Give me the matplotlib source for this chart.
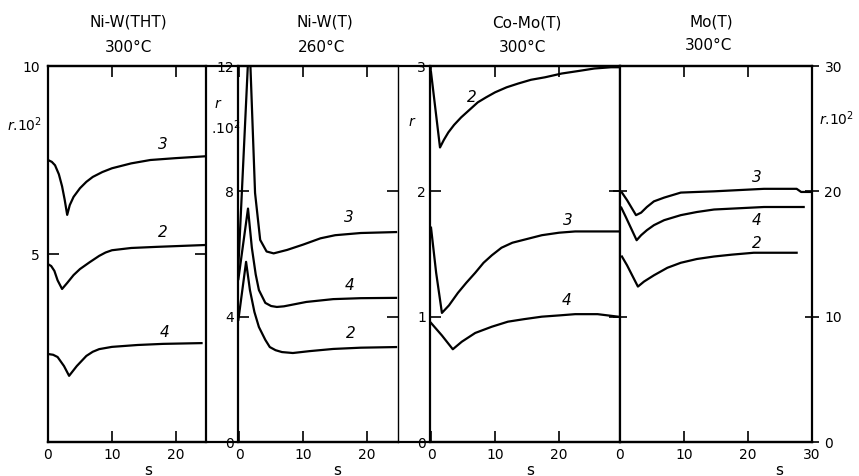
import matplotlib.pyplot as plt
from matplotlib.lines import Line2D
from matplotlib import transforms

# ---- data (s in seconds, r values) ----
# Ni-W(THT) 300C, r.10^2
nw_tht_s3 = [0, 0.6, 1.1, 1.7, 2.2, 2.6, 3.0, 3.4, 4.0, 5.0, 6.0, 7.0, 8.5, 10, 13, 16, 20, 24.7]
nw_tht_r3 = [7.5, 7.45, 7.36, 7.12, 6.8, 6.45, 6.04, 6.3, 6.52, 6.75, 6.92, 7.05, 7.18, 7.28, 7.41, 7.5, 7.55, 7.6]
nw_tht_s2 = [0, 0.5, 1.0, 1.5, 2.2, 3.0, 4.0, 5.0, 6.5, 8.0, 9.0, 10, 13, 17, 24.7]
nw_tht_r2 = [4.73, 4.68, 4.55, 4.3, 4.07, 4.23, 4.44, 4.6, 4.78, 4.95, 5.04, 5.1, 5.16, 5.19, 5.24]
nw_tht_s4 = [0, 0.8, 1.5, 2.5, 3.3, 4.5, 6.0, 7.0, 8.0, 10, 14, 18, 24]
nw_tht_r4 = [2.34, 2.32, 2.26, 2.02, 1.76, 2.02, 2.29, 2.4, 2.47, 2.53, 2.58, 2.61, 2.63]

# Ni-W(T) 260C, r.10^2
nw_t_s3 = [-0.15, 1.6, 2.5, 3.3, 4.3, 5.4, 7.5, 10, 12.7, 15, 19, 24.5]
nw_t_r3 = [5.4, 13.0, 7.95, 6.45, 6.08, 6.02, 6.13, 6.3, 6.5, 6.6, 6.67, 6.7]
nw_t_s4 = [-0.1, 1.4, 2.0, 2.6, 3.1, 4.1, 5.0, 5.9, 7.0, 8.0, 10.5, 14.7, 19, 24.5]
nw_t_r4 = [5.2, 7.45, 6.2, 5.35, 4.85, 4.44, 4.34, 4.31, 4.33, 4.37, 4.47, 4.56, 4.59, 4.6]
nw_t_s2 = [-0.1, 1.1, 1.7, 2.4, 3.1, 4.1, 4.8, 5.7, 6.7, 8.4, 11, 14.7, 19, 24.5]
nw_t_r2 = [3.9, 5.75, 4.85, 4.15, 3.67, 3.26, 3.03, 2.93, 2.87, 2.84, 2.9, 2.97, 3.01, 3.03]

# Co-Mo(T) 300C, r
como_s2 = [0, 1.4, 2.0, 2.7, 3.6, 4.7, 6.0, 7.3, 8.6, 10, 11.8, 13.6, 15.6, 17.8, 20.4, 23, 25.5, 28.1, 29.5]
como_r2 = [2.95, 2.35, 2.41, 2.47, 2.53, 2.59, 2.65, 2.71, 2.75, 2.79, 2.83, 2.86, 2.89, 2.91, 2.94, 2.96, 2.98, 2.99, 2.99]
como_s3 = [0, 0.8, 1.7, 2.8, 4.2, 5.5, 6.9, 8.2, 9.5, 11, 12.7, 15, 17.3, 20, 22.5, 29.2]
como_r3 = [1.71, 1.35, 1.03, 1.09, 1.19, 1.27, 1.35, 1.43, 1.49, 1.55, 1.59, 1.62, 1.65, 1.67, 1.68, 1.68]
como_s4 = [0, 1.7, 3.4, 4.8, 6.9, 9.5, 12, 14.5, 17.3, 20, 22.5, 26, 29.2]
como_r4 = [0.95, 0.85, 0.74, 0.8, 0.87, 0.92, 0.96, 0.98, 1.0, 1.01, 1.02, 1.02, 1.0]

# Mo(T) 300C, r.10^2
mo_s3 = [0.3, 1.1, 2.5, 3.3, 4.2, 5.3, 6.9, 9.5, 12, 14.7, 22.5, 27.6, 28.3, 30]
mo_r3 = [19.9, 19.3, 18.1, 18.3, 18.75, 19.2, 19.5, 19.9, 19.95, 20.0, 20.2, 20.2, 19.95, 19.95]
mo_s4 = [0.2, 0.9, 2.6, 3.3, 4.2, 5.3, 6.9, 9.5, 12, 14.7, 22.5, 28.7]
mo_r4 = [18.7, 17.96, 16.1, 16.5, 16.9, 17.3, 17.7, 18.1, 18.35, 18.55, 18.75, 18.75]
mo_s2 = [0.3, 1.1, 2.8, 3.75, 5.3, 7.4, 9.5, 12, 14.7, 17.5, 20.9, 27.6]
mo_r2 = [14.8, 14.1, 12.4, 12.8, 13.3, 13.9, 14.3, 14.6, 14.8, 14.95, 15.1, 15.1]

W, H = 859, 476
fig = plt.figure(figsize=(W/100, H/100), dpi=100)

def px_axes(x0, x1, y0=66, y1=442):
    return fig.add_axes([x0/W, 1-y1/H, (x1-x0)/W, (y1-y0)/H])

ax1 = px_axes(48, 206)
ax2 = px_axes(238, 398)
ax3 = px_axes(430, 620)
ax4 = px_axes(620, 812)

LW = 1.6
for ax in [ax1, ax2, ax3, ax4]:
    for sp in ax.spines.values():
        sp.set_linewidth(LW)
    ax.tick_params(direction='in', length=8, width=1.2, labelsize=10,
                   top=True, right=True, pad=4)
    ax.set_xticks([0, 10, 20])
ax2.spines['right'].set_linewidth(1.0)

# top and bottom frame lines run across the gaps
for y in [66, 442]:
    fig.add_artist(Line2D([48/W, 812/W], [1-y/H, 1-y/H], color='black',
                          lw=LW, transform=fig.transFigure))

# panel 1
ax1.plot(nw_tht_s3, nw_tht_r3, color='black', lw=LW)
ax1.plot(nw_tht_s2, nw_tht_r2, color='black', lw=LW)
ax1.plot(nw_tht_s4, nw_tht_r4, color='black', lw=LW)
ax1.set_xlim(0, 24.7)
ax1.set_ylim(0, 10)
ax1.set_yticks([5, 10])
ax1.tick_params(axis='y', pad=6)

# panel 2
ax2.plot(nw_t_s3, nw_t_r3, color='black', lw=LW)
ax2.plot(nw_t_s4, nw_t_r4, color='black', lw=LW)
ax2.plot(nw_t_s2, nw_t_r2, color='black', lw=LW)
ax2.set_xlim(-0.16, 24.8)
ax2.set_ylim(0, 12)
ax2.set_yticks([0, 4, 8, 12])
ax2.tick_params(axis='y', pad=3)

# panel 3
ax3.plot(como_s2, como_r2, color='black', lw=LW)
ax3.plot(como_s3, como_r3, color='black', lw=LW)
ax3.plot(como_s4, como_r4, color='black', lw=LW)
ax3.set_xlim(-0.16, 29.5)
ax3.set_ylim(0, 3)
ax3.set_yticks([0, 1, 2, 3])
ax3.tick_params(axis='y', pad=3)

# panel 4
ax4.plot(mo_s3, mo_r3, color='black', lw=LW)
ax4.plot(mo_s4, mo_r4, color='black', lw=LW)
ax4.plot(mo_s2, mo_r2, color='black', lw=LW)
ax4.set_xlim(0, 30)
ax4.set_ylim(0, 30)
ax4.set_xticks([0, 10, 20, 30])
ax4.set_yticks([0, 10, 20, 30])
ax4.tick_params(axis='y', labelleft=False, labelright=True)
ax4.tick_params(axis='y', which='both', right=True, direction='inout', length=10)

# curve numbers
lab = dict(fontsize=11, style='italic', ha='center', va='center')
ax1.text(18, 7.9, '3', **lab)
ax1.text(18, 5.58, '2', **lab)
ax1.text(18.3, 2.9, '4', **lab)
ax2.text(17.2, 7.15, '3', **lab)
ax2.text(17.3, 4.98, '4', **lab)
ax2.text(17.5, 3.45, '2', **lab)
ax3.text(6.3, 2.75, '2', **lab)
ax3.text(21.4, 1.77, '3', **lab)
ax3.text(21.1, 1.13, '4', **lab)
ax4.text(21.4, 21.1, '3', **lab)
ax4.text(21.4, 17.7, '4', **lab)
ax4.text(21.4, 15.8, '2', **lab)

# s labels under each panel
for ax, xs in [(ax1, 15.6), (ax2, 15.3), (ax3, 15.5), (ax4, 24.8)]:
    tr = transforms.blended_transform_factory(ax.transData, ax.transAxes)
    ax.text(xs, -0.075, 's', transform=tr, fontsize=11, ha='center', va='center')

# panel titles
def ftext(x, y, s, **kw):
    fig.text(x/W, 1-y/H, s, ha='center', va='center', **kw)

ftext(128, 22, 'Ni-W(THT)', fontsize=11)
ftext(128, 47, '300°C', fontsize=11)
ftext(325, 22, 'Ni-W(T)', fontsize=11)
ftext(322, 47, '260°C', fontsize=11)
ftext(527, 23, 'Co-Mo(T)', fontsize=11)
ftext(522, 47, '300°C', fontsize=11)
ftext(711, 22, 'Mo(T)', fontsize=11)
ftext(709, 46, '300°C', fontsize=11)

# axis quantity labels
ftext(25, 125, '$r$.10$^2$', fontsize=10)
ftext(218, 104, '$r$', fontsize=10)
ftext(226, 128, '.10$^2$', fontsize=10)
ftext(412, 122, '$r$', fontsize=10)
ftext(837, 119, '$r$.10$^2$', fontsize=10)

plt.savefig('out.png', dpi=100)
